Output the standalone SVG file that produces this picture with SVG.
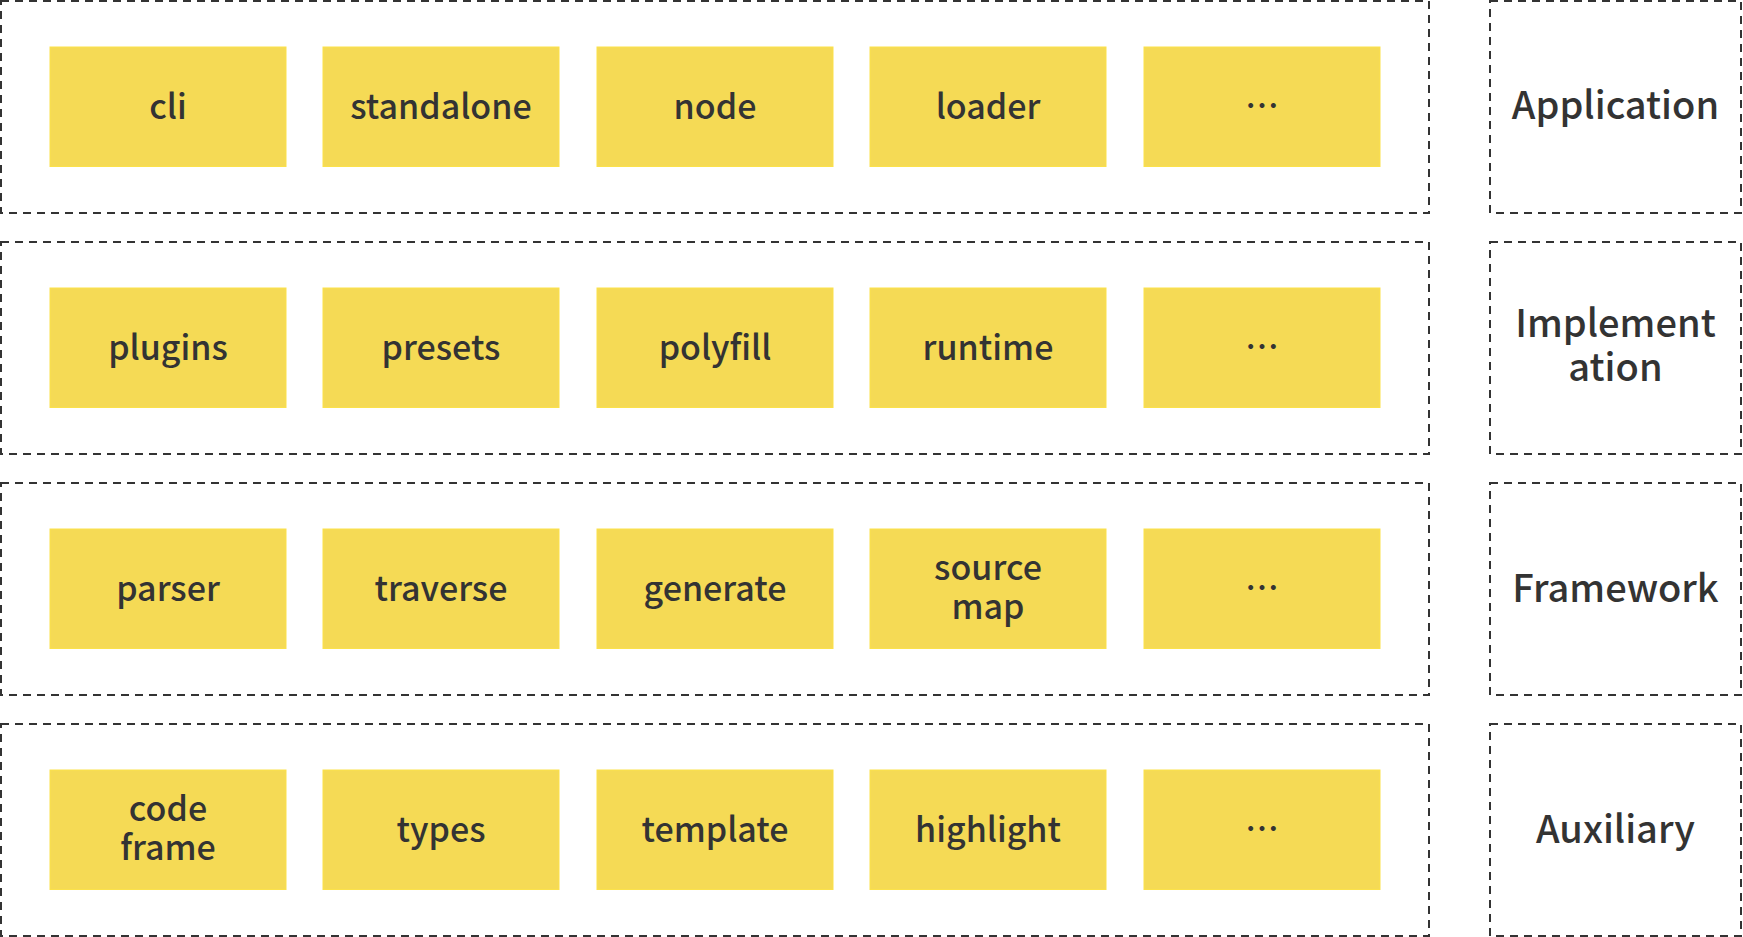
<svg xmlns="http://www.w3.org/2000/svg" width="1743" height="937" viewBox="0 0 1743 937">
  <style>
    .layer { fill: none; stroke: #333333; stroke-width: 2; stroke-dasharray: 8 6; }
    .box { fill: #f5da55; stroke: #fbe14a; stroke-width: 1; }
    .lbl { font-family: "Noto Sans CJK SC", "Noto Sans", sans-serif; font-size: 34px; font-weight: 500; fill: #333333; text-anchor: middle; }
    .ttl { font-family: "Noto Sans CJK SC", "Noto Sans", sans-serif; font-size: 38px; font-weight: 500; fill: #333333; text-anchor: middle; }
  </style>
  <rect width="1743" height="937" fill="#ffffff"/>

  <!-- layer frames -->
  <g id="layers">
    <rect class="layer" x="1" y="1" width="1428" height="212"/>
    <rect class="layer" x="1" y="242" width="1428" height="212"/>
    <rect class="layer" x="1" y="483" width="1428" height="212"/>
    <rect class="layer" x="1" y="724" width="1428" height="212"/>
    <rect class="layer" x="1490" y="1" width="251" height="212"/>
    <rect class="layer" x="1490" y="242" width="251" height="212"/>
    <rect class="layer" x="1490" y="483" width="251" height="212"/>
    <rect class="layer" x="1490" y="724" width="251" height="212"/>
  </g>

  <!-- layer titles -->
  <g id="title-application"><text class="ttl" x="1615.5" y="119">Application</text></g>
  <g id="title-implementation"><text class="ttl" x="1615.5" y="337">Implement</text><text class="ttl" x="1615.5" y="381">ation</text></g>
  <g id="title-framework"><text class="ttl" x="1615.5" y="602">Framework</text></g>
  <g id="title-auxiliary"><text class="ttl" x="1615.5" y="843">Auxiliary</text></g>

  <!-- Application layer -->
  <g id="cli"><rect class="box" x="50" y="47" width="236" height="119.5"/><text class="lbl" x="168" y="119">cli</text></g>
  <g id="standalone"><rect class="box" x="323" y="47" width="236" height="119.5"/><text class="lbl" x="441" y="119">standalone</text></g>
  <g id="node"><rect class="box" x="597" y="47" width="236" height="119.5"/><text class="lbl" x="715" y="119">node</text></g>
  <g id="loader"><rect class="box" x="870" y="47" width="236" height="119.5"/><text class="lbl" x="988" y="119">loader</text></g>
  <g id="app-more"><rect class="box" x="1144" y="47" width="236" height="119.5"/><text class="lbl" x="1262" y="119">…</text></g>

  <!-- Implementation layer -->
  <g id="plugins"><rect class="box" x="50" y="288" width="236" height="119.5"/><text class="lbl" x="168" y="360">plugins</text></g>
  <g id="presets"><rect class="box" x="323" y="288" width="236" height="119.5"/><text class="lbl" x="441" y="360">presets</text></g>
  <g id="polyfill"><rect class="box" x="597" y="288" width="236" height="119.5"/><text class="lbl" x="715" y="360">polyfill</text></g>
  <g id="runtime"><rect class="box" x="870" y="288" width="236" height="119.5"/><text class="lbl" x="988" y="360">runtime</text></g>
  <g id="impl-more"><rect class="box" x="1144" y="288" width="236" height="119.5"/><text class="lbl" x="1262" y="360">…</text></g>

  <!-- Framework layer -->
  <g id="parser"><rect class="box" x="50" y="529" width="236" height="119.5"/><text class="lbl" x="168" y="601">parser</text></g>
  <g id="traverse"><rect class="box" x="323" y="529" width="236" height="119.5"/><text class="lbl" x="441" y="601">traverse</text></g>
  <g id="generate"><rect class="box" x="597" y="529" width="236" height="119.5"/><text class="lbl" x="715" y="601">generate</text></g>
  <g id="source-map"><rect class="box" x="870" y="529" width="236" height="119.5"/><text class="lbl" x="988" y="580">source</text><text class="lbl" x="988" y="619">map</text></g>
  <g id="fw-more"><rect class="box" x="1144" y="529" width="236" height="119.5"/><text class="lbl" x="1262" y="601">…</text></g>

  <!-- Auxiliary layer -->
  <g id="code-frame"><rect class="box" x="50" y="770" width="236" height="119.5"/><text class="lbl" x="168" y="821">code</text><text class="lbl" x="168" y="860">frame</text></g>
  <g id="types"><rect class="box" x="323" y="770" width="236" height="119.5"/><text class="lbl" x="441" y="842">types</text></g>
  <g id="template"><rect class="box" x="597" y="770" width="236" height="119.5"/><text class="lbl" x="715" y="842">template</text></g>
  <g id="highlight"><rect class="box" x="870" y="770" width="236" height="119.5"/><text class="lbl" x="988" y="842">highlight</text></g>
  <g id="aux-more"><rect class="box" x="1144" y="770" width="236" height="119.5"/><text class="lbl" x="1262" y="842">…</text></g>

  <!-- no connectors between nodes -->
  <g id="connectors"></g>
</svg>
